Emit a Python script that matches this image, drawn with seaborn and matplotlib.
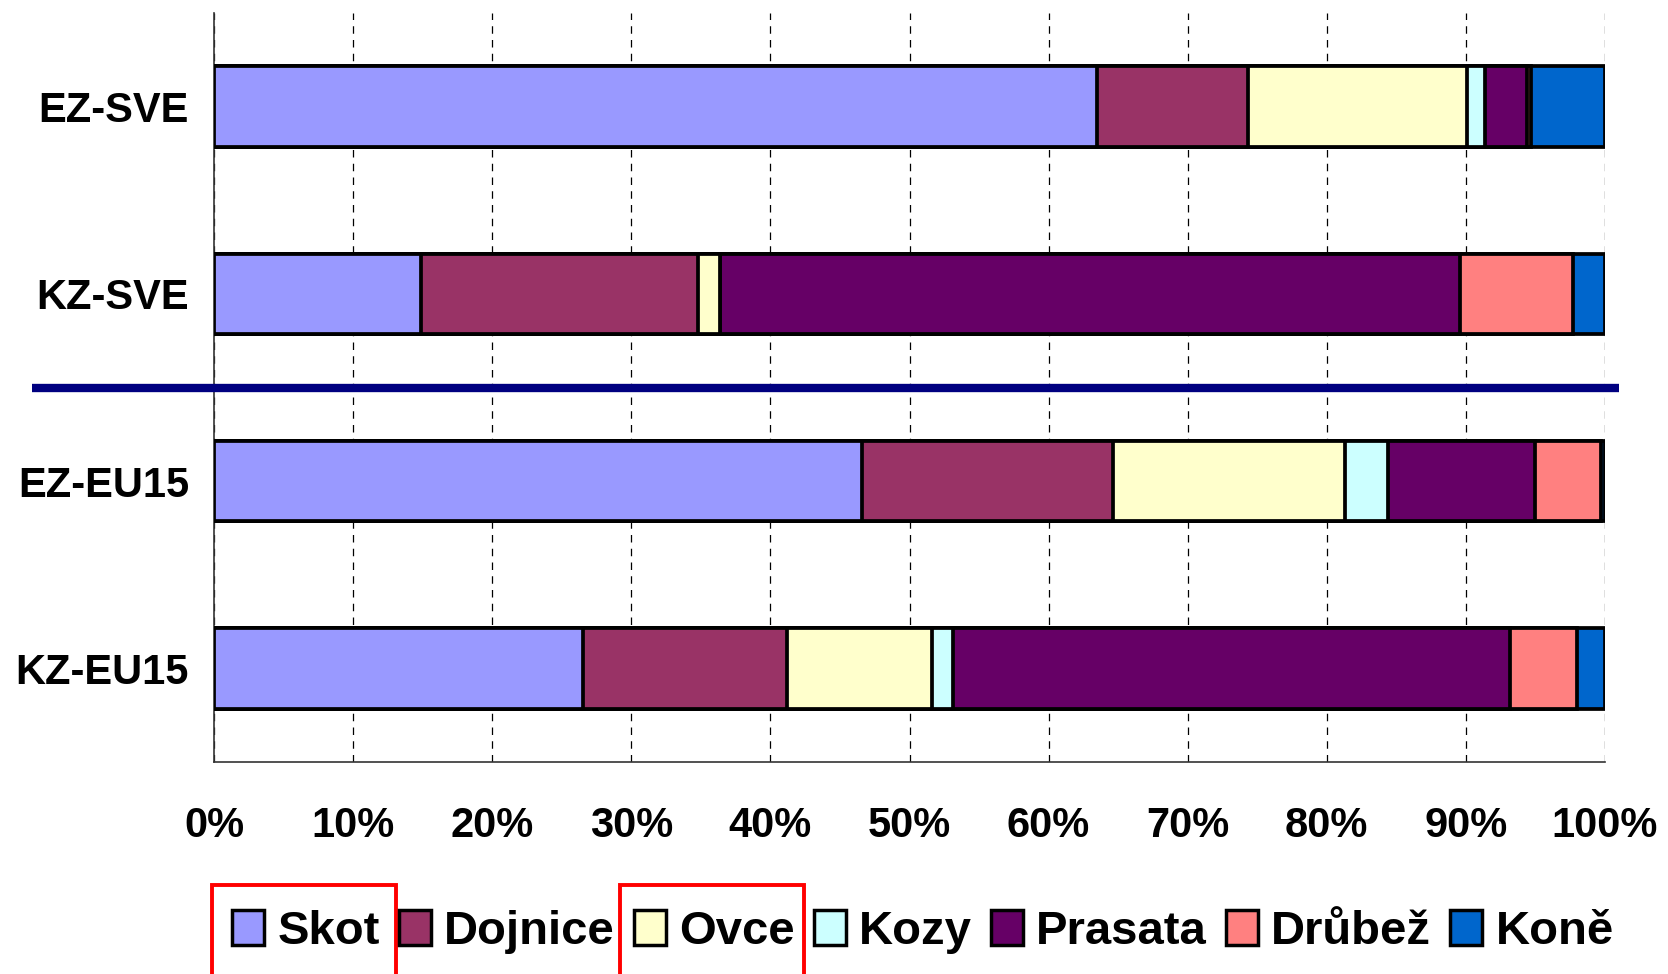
import matplotlib
matplotlib.use("Agg")
import matplotlib.pyplot as plt
from matplotlib.patches import Patch, Rectangle
import numpy as np
import pandas as pd
import seaborn as sns

# data (percent of livestock units)
regions = ["EZ-SVE", "KZ-SVE", "EZ-EU15", "KZ-EU15"]
kinds = ["Skot", "Dojnice", "Ovce", "Kozy", "Prasata", "Drůbež", "Koně"]
skot = [63.5, 14.9, 46.6, 26.5]
dojnice = [10.8, 19.9, 18.0, 14.7]
ovce = [15.8, 1.6, 16.7, 10.4]
kozy = [1.3, 0.0, 3.1, 1.5]
prasata = [3.0, 53.2, 10.6, 40.1]
drubez = [0.3, 8.1, 4.7, 4.8]
kone = [5.3, 2.3, 0.3, 2.0]
xticks = [0, 10, 20, 30, 40, 50, 60, 70, 80, 90, 100]

colors = ["#9999FF", "#993366", "#FFFFCC", "#CCFFFF", "#660066", "#FF8080", "#0066CC"]

df = pd.DataFrame({"region": regions, "Skot": skot, "Dojnice": dojnice, "Ovce": ovce,
                   "Kozy": kozy, "Prasata": prasata, "Drůbež": drubez, "Koně": kone})
cum = df[kinds].cumsum(axis=1)

sns.set_style("white")
plt.rcParams["font.family"] = ["Liberation Sans", "DejaVu Sans"]
plt.rcParams["font.weight"] = "bold"
plt.rcParams["text.color"] = "black"
plt.rcParams["xtick.color"] = "black"
plt.rcParams["ytick.color"] = "black"

fig = plt.figure(figsize=(16.68, 9.74), dpi=100)
ax = fig.add_axes([214 / 1668, 1 - 762 / 974, (1605 - 214) / 1668, (762 - 13) / 974])

# stacked bars: draw cumulative totals from the longest down so each layer sits on top
for kind, col in reversed(list(zip(kinds, colors))):
    sns.barplot(x=cum[kind], y=df["region"], orient="h", color=col, saturation=1,
                width=0.43, edgecolor="black", linewidth=2.7, errorbar=None, ax=ax,
                zorder=3)

ax.set_xlim(0, 100)
ax.set_ylim(3.5, -0.5)
ax.set_xlabel("")
ax.set_ylabel("")
ax.set_xticks(xticks)
ax.set_xticklabels([f"{v}%" for v in xticks], fontsize=30, fontweight="bold")
ax.set_yticks(range(len(regions)))
ax.set_yticklabels(regions, fontsize=30, fontweight="bold")
ax.set_yticks(np.arange(-0.5, 4, 1.0), minor=True)
ax.tick_params(axis="y", which="major", length=0, pad=18)
ax.tick_params(axis="y", which="minor", length=9, width=1, color="#333333")
ax.tick_params(axis="x", which="major", length=8, width=1, color="#333333", pad=24,
               direction="out")

ax.xaxis.grid(True, color="black", linestyle=(0, (6, 5)), linewidth=0.9, zorder=0)
ax.set_axisbelow(True)
for side in ["top", "right"]:
    ax.spines[side].set_visible(False)
for side in ["left", "bottom"]:
    ax.spines[side].set_color("#333333")
    ax.spines[side].set_linewidth(1.2)

# separator between the two groups
ax.axhline(1.5, xmin=(32 - 214) / 1391, xmax=(1619 - 214) / 1391, color="#000080",
           linewidth=6, clip_on=False, zorder=5, solid_capstyle="butt")

handles = [Patch(facecolor=c, edgecolor="black", linewidth=2.5, label=k)
           for k, c in zip(kinds, colors)]
fig.legend(handles=handles, loc="center", bbox_to_anchor=(923 / 1668, 1 - 932 / 974),
           ncol=7, frameon=False, handlelength=0.68, handleheight=0.75,
           handletextpad=0.28, columnspacing=0.4, borderaxespad=0,
           prop={"family": "Liberation Sans", "weight": "bold", "size": 34})

# red highlight boxes around Skot and Ovce
for x0 in [212, 620]:
    fig.patches.append(Rectangle((x0 / 1668, -0.01), 184 / 1668, 1 - 885 / 974 + 0.01,
                                 transform=fig.transFigure, fill=False,
                                 edgecolor="red", linewidth=2.8))

fig.savefig("out.png", dpi=100)
